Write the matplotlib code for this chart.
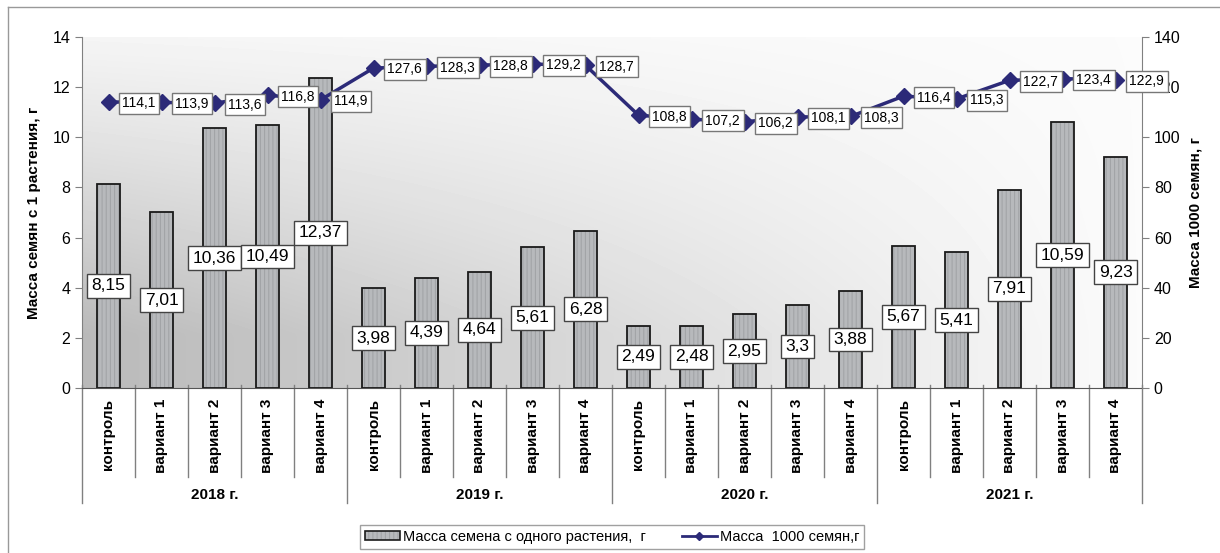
import numpy as np
import matplotlib
matplotlib.use('Agg')
import matplotlib.pyplot as plt
from matplotlib.patches import Patch
from matplotlib.lines import Line2D

plt.rcParams['font.family'] = ['Liberation Sans', 'DejaVu Sans']
plt.rcParams['hatch.linewidth'] = 0.8

# Data
years = ['2018 г.', '2019 г.', '2020 г.', '2021 г.']
variants = ['контроль', 'вариант 1', 'вариант 2', 'вариант 3', 'вариант 4']
seed_mass = [8.15, 7.01, 10.36, 10.49, 12.37,
             3.98, 4.39, 4.64, 5.61, 6.28,
             2.49, 2.48, 2.95, 3.3, 3.88,
             5.67, 5.41, 7.91, 10.59, 9.23]
mass_1000 = [114.1, 113.9, 113.6, 116.8, 114.9,
             127.6, 128.3, 128.8, 129.2, 128.7,
             108.8, 107.2, 106.2, 108.1, 108.3,
             116.4, 115.3, 122.7, 123.4, 122.9]

LINE_COLOR = '#2c2a78'
AXIS_GRAY = '#808080'
BAR_FILL = '#b7b9bc'
HATCH_GRAY = '#a2a4a7'

def fmt(v):
    return ('%g' % v).replace('.', ',')

fig = plt.figure(figsize=(12.2, 5.53), dpi=100)
ax = fig.add_axes([82 / 1220, 1 - 388 / 553, 1060 / 1220, 351 / 553])

# outer frame (left and top only visible)
fig.add_artist(Line2D([8 / 1220, 8 / 1220], [0, 1 - 7 / 553], color='#999999', lw=1, transform=fig.transFigure))
fig.add_artist(Line2D([8 / 1220, 1], [1 - 7 / 553, 1 - 7 / 553], color='#999999', lw=1, transform=fig.transFigure))

# gradient background in the plot area
gx = np.linspace(0, 1, 200)
gy = np.linspace(0, 1, 100)
X, Y = np.meshgrid(gx, gy)
shade = (1 - X) ** 1.0 * np.clip(1.15 - Y, 0, 1) ** 1.2
bg = 0.985 - 0.26 * shade
ax.imshow(bg, cmap='gray', vmin=0, vmax=1, extent=[0, 1, 0, 1], origin='lower',
          transform=ax.transAxes, aspect='auto', zorder=0, interpolation='bilinear')

n = len(seed_mass)
x = np.arange(n)
# hatched fill, then dark outline on top
ax.bar(x, seed_mass, width=0.42, color=BAR_FILL, edgecolor=HATCH_GRAY, linewidth=0,
       hatch='||||', zorder=2)
ax.bar(x, seed_mass, width=0.42, fill=False, edgecolor='#1a1a1a', linewidth=1.3, zorder=3)

for xi, v in zip(x, seed_mass):
    ax.text(xi, v / 2, fmt(v), ha='center', va='center', fontsize=12.5, zorder=5,
            bbox=dict(boxstyle='square,pad=0.25', fc='white', ec='#444444', lw=1))

ax.set_xlim(-0.5, n - 0.5)
ax.set_ylim(0, 14)
ax.set_yticks(np.arange(0, 15, 2))
ax.set_xticks([])
ax.tick_params(axis='y', labelsize=11.5, direction='out', length=5, color=AXIS_GRAY)
for s in ['top', 'right']:
    ax.spines[s].set_visible(False)
ax.spines['left'].set_color(AXIS_GRAY)
ax.spines['bottom'].set_color('#555555')
ax.set_ylabel('Масса семян с 1 растения, г', fontsize=11, fontweight='bold', labelpad=8)

ax2 = ax.twinx()
ax2.plot(x, mass_1000, color=LINE_COLOR, lw=2.5, marker='D', markersize=8, zorder=4)
for xi, v in zip(x, mass_1000):
    ax2.annotate(fmt(v), (xi, v), xytext=(10, -1), textcoords='offset points',
                 ha='left', va='center', fontsize=10, zorder=6,
                 bbox=dict(boxstyle='square,pad=0.25', fc='white', ec='#777777', lw=1))
ax2.set_ylim(0, 140)
ax2.set_yticks(np.arange(0, 141, 20))
ax2.tick_params(axis='y', labelsize=11.5, direction='out', length=5, color=AXIS_GRAY)
for s in ['top', 'left', 'bottom']:
    ax2.spines[s].set_visible(False)
ax2.spines['right'].set_color(AXIS_GRAY)
ax2.set_ylabel('Масса 1000 семян, г', fontsize=11, fontweight='bold', labelpad=6)

# category axis labels and separators
trans = ax.get_xaxis_transform()
for i in range(n + 1):
    xb = i - 0.5
    low = -0.3276 if i % 5 == 0 else -0.2536
    ax.add_line(Line2D([xb, xb], [0.008, low], color=AXIS_GRAY, lw=1, transform=trans, clip_on=False))
for i in range(n):
    ax.text(i, -0.03, variants[i % 5], rotation=90, ha='center', va='top', fontsize=11,
            fontweight='bold', transform=trans)
for j, yr in enumerate(years):
    ax.text(j * 5 + 2, -0.305, yr, ha='center', va='center', fontsize=11,
            fontweight='bold', transform=trans)

bar_handle = (Patch(facecolor=BAR_FILL, edgecolor=HATCH_GRAY, hatch='||||', linewidth=0),
              Patch(fill=False, edgecolor='#1a1a1a', linewidth=1.2))
handles = [bar_handle,
           Line2D([], [], color=LINE_COLOR, lw=2, marker='D', markersize=4)]
fig.legend(handles, ['Масса семена с одного растения,  г', 'Масса  1000 семян,г'],
           loc='center', bbox_to_anchor=(612 / 1220, 1 - 537 / 553), ncol=2, fontsize=10.5,
           frameon=True, fancybox=False, edgecolor='#888888', handlelength=2.4,
           handleheight=0.55, handletextpad=0.2, columnspacing=2.5, borderpad=0.35)

fig.savefig('out.png', dpi=100)
